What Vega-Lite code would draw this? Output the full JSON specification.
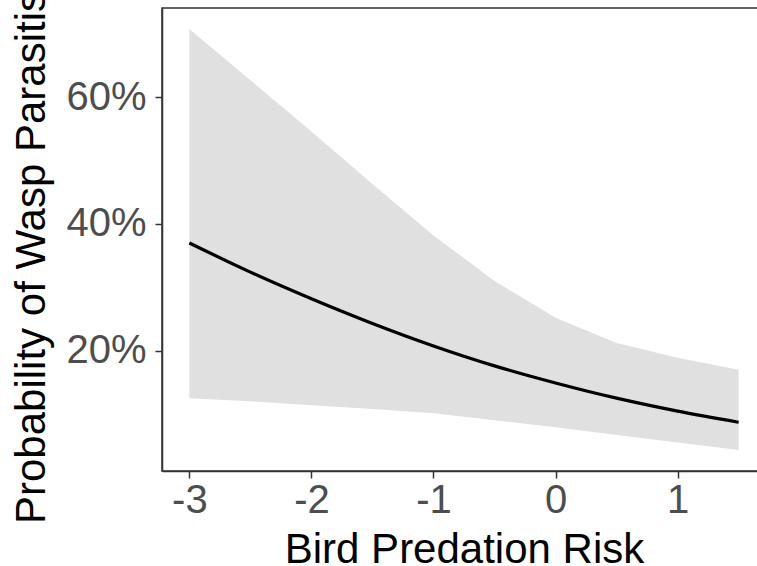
{
  "$schema": "https://vega.github.io/schema/vega-lite/v6.json",
  "width": 604,
  "height": 463,
  "autosize": {"type": "none"},
  "padding": {"left": 162, "top": 8, "right": 0, "bottom": 95},
  "background": "white",
  "config": {
    "view": {"stroke": "#333333", "strokeWidth": 1.5},
    "font": "Liberation Sans",
    "axis": {
      "grid": false,
      "domainColor": "#333333",
      "domainWidth": 1.5,
      "tickColor": "#333333",
      "tickWidth": 1.5,
      "tickSize": 7,
      "labelFont": "Liberation Sans",
      "labelFontSize": 40,
      "labelColor": "#4d4d4d",
      "titleFont": "Liberation Sans",
      "titleFontSize": 42,
      "titleFontWeight": "normal",
      "titleColor": "#000000"
    }
  },
  "data": {
    "values": [
      {"x": -3.0, "fit": 0.370, "lo": 0.125, "hi": 0.708},
      {"x": -2.5, "fit": 0.324, "lo": 0.120, "hi": 0.627},
      {"x": -2.0, "fit": 0.282, "lo": 0.114, "hi": 0.546},
      {"x": -1.5, "fit": 0.243, "lo": 0.108, "hi": 0.463},
      {"x": -1.0, "fit": 0.2075, "lo": 0.101, "hi": 0.382},
      {"x": -0.5, "fit": 0.176, "lo": 0.090, "hi": 0.310},
      {"x": 0.0, "fit": 0.149, "lo": 0.079, "hi": 0.252},
      {"x": 0.5, "fit": 0.125, "lo": 0.067, "hi": 0.212},
      {"x": 1.0, "fit": 0.1045, "lo": 0.055, "hi": 0.189},
      {"x": 1.5, "fit": 0.087, "lo": 0.043, "hi": 0.170}
    ]
  },
  "encoding": {
    "x": {
      "field": "x",
      "type": "quantitative",
      "scale": {"domain": [-3.224, 1.724], "nice": false, "zero": false},
      "axis": {
        "title": "Bird Predation Risk",
        "values": [-3, -2, -1, 0, 1],
        "labelExpr": "'' + datum.value",
        "labelPadding": 2,
        "labelFlush": false,
        "labelOverlap": false,
        "titleBaseline": "alphabetic",
        "titleAlign": "center",
        "titleX": 302,
        "titleY": 91.5
      }
    }
  },
  "layer": [
    {
      "mark": {"type": "area", "color": "#e0e0e0", "opacity": 1},
      "encoding": {
        "y": {
          "field": "lo",
          "type": "quantitative",
          "scale": {"domain": [0.010, 0.741], "nice": false, "zero": false},
          "axis": {
            "title": "Probability of Wasp Parasitism",
            "values": [0.2, 0.4, 0.6],
            "format": ".0%",
            "labelPadding": 9,
            "titleAngle": -90,
            "titleAlign": "center",
            "titleBaseline": "alphabetic",
            "titleX": -117.5,
            "titleY": 231.5
          }
        },
        "y2": {"field": "hi"}
      }
    },
    {
      "mark": {"type": "line", "color": "#000000", "strokeWidth": 3.2, "interpolate": "monotone"},
      "encoding": {
        "y": {"field": "fit", "type": "quantitative"}
      }
    }
  ]
}
